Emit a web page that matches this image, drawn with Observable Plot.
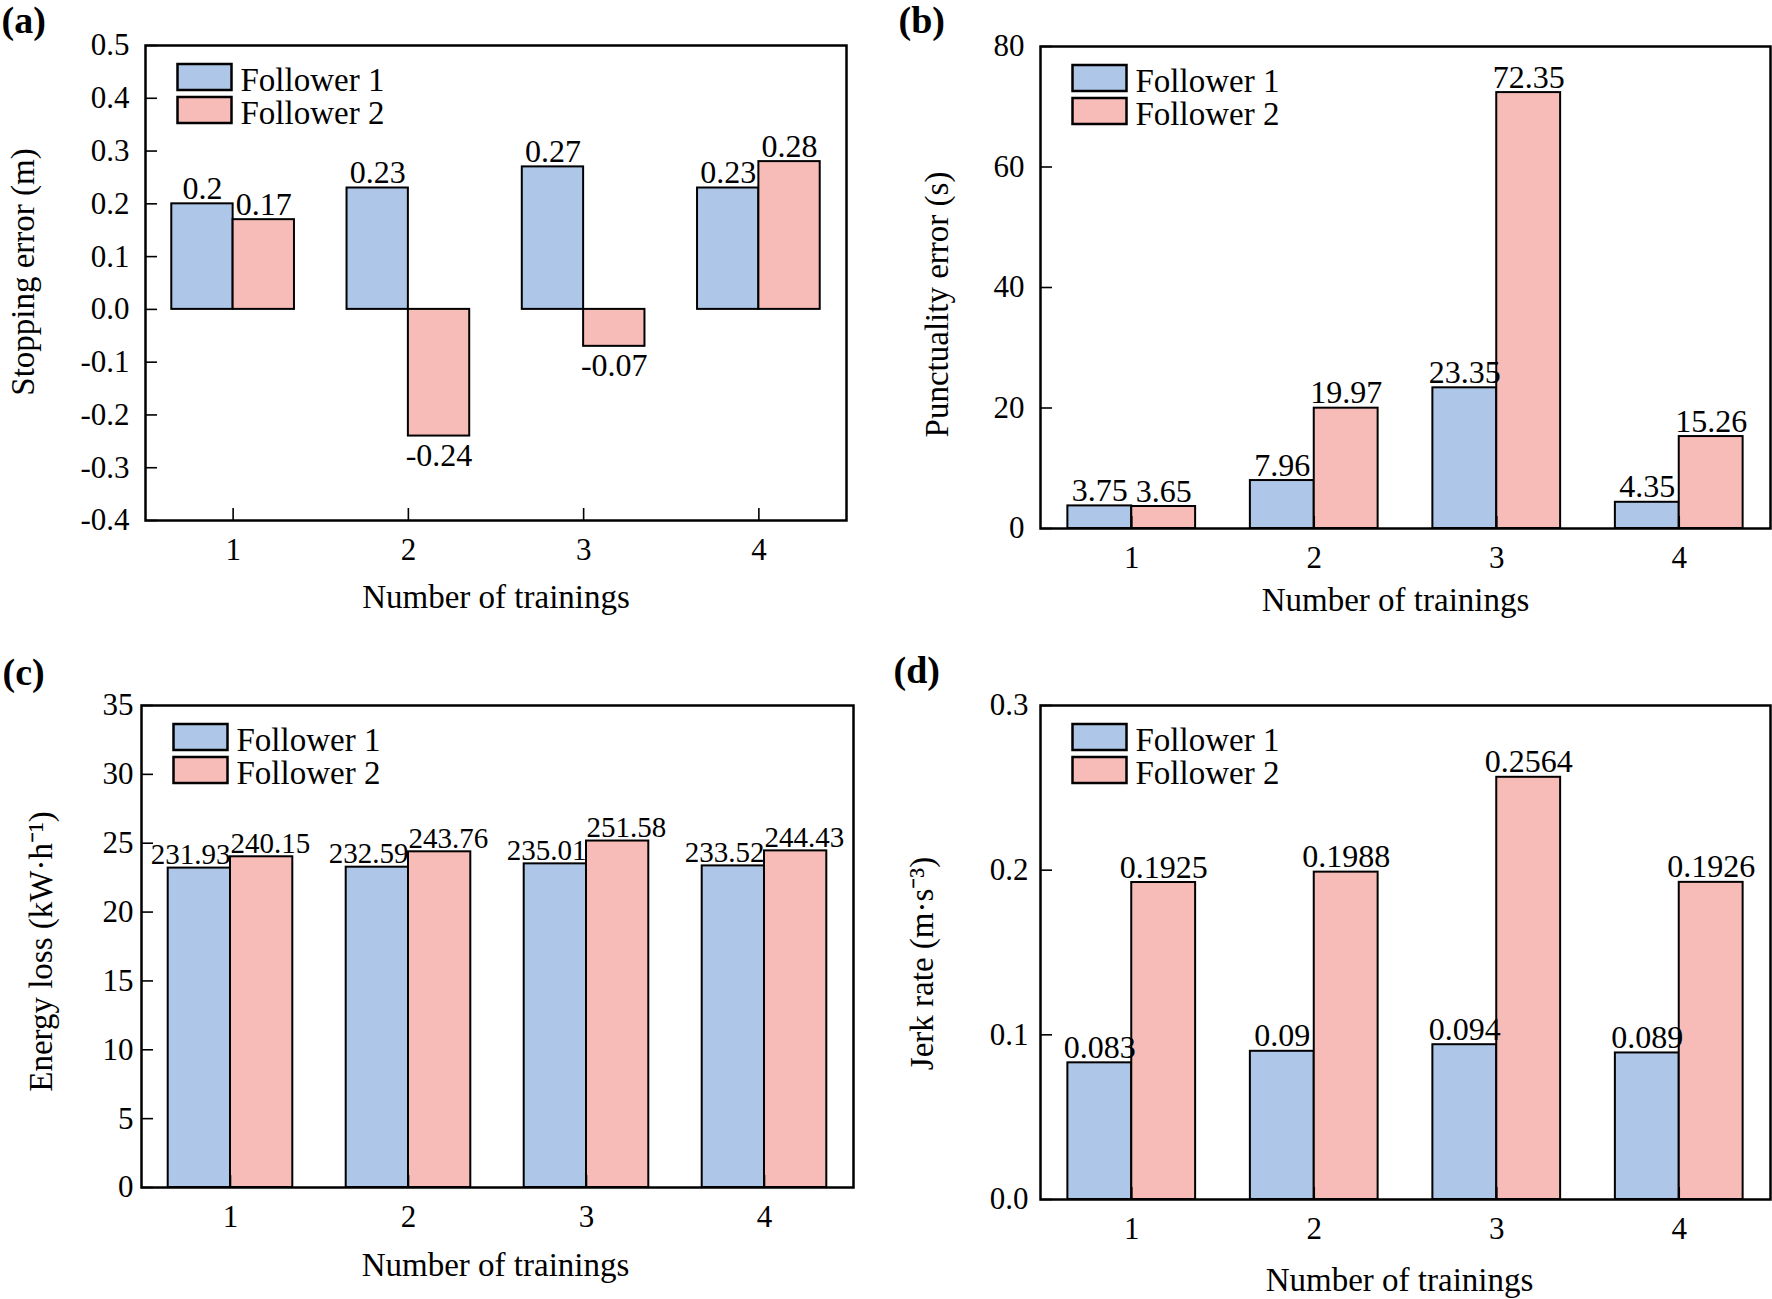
<!DOCTYPE html>
<html>
<head>
<meta charset="utf-8">
<script src="https://cdn.jsdelivr.net/npm/d3@7"></script>
<script src="https://cdn.jsdelivr.net/npm/@observablehq/plot@0.6"></script>
<style>
  html, body { margin: 0; padding: 0; background: #fff; }
  #page { position: relative; width: 1772px; height: 1299px; overflow: hidden; background: #fff; }
  .panel { position: absolute; }
</style>
</head>
<body>
<div id="page"></div>
<script>
// ---------- data ----------
const trainings = [1, 2, 3, 4];
const series = ["Follower 1", "Follower 2"];
const seriesColors = ["#aec7e8", "#f8bcb8"];

const stoppingF1 = [0.2, 0.23, 0.27, 0.23];
const stoppingF2 = [0.17, -0.24, -0.07, 0.28];
const stoppingTicks = [-0.4, -0.3, -0.2, -0.1, 0, 0.1, 0.2, 0.3, 0.4, 0.5];

const punctualityF1 = [3.75, 7.96, 23.35, 4.35];
const punctualityF2 = [3.65, 19.97, 72.35, 15.26];
const punctualityTicks = [0, 20, 40, 60, 80];

const energyF1 = [231.93, 232.59, 235.01, 233.52];
const energyF2 = [240.15, 243.76, 251.58, 244.43];
const energyTicks = [0, 5, 10, 15, 20, 25, 30, 35];

const jerkF1 = [0.083, 0.09, 0.094, 0.089];
const jerkF2 = [0.1925, 0.1988, 0.2564, 0.1926];
const jerkTicks = [0.0, 0.1, 0.2, 0.3];

const xLabel = "Number of trainings";
const FONT = "'Liberation Serif', 'Times New Roman', serif";
const fmt1 = d => d3.format(".1f")(d).replace("\u2212", "-");
const fmt0 = d => d3.format("d")(d);

// ---------- panel builder ----------
function panel(cfg) {
  const rows = [];
  trainings.forEach((t, i) => {
    rows.push({t, s: series[0], v: cfg.f1[i]});
    rows.push({t, s: series[1], v: cfg.f2[i]});
  });
  const fw = cfg.w - cfg.ml - cfg.mr;
  const fh = cfg.h - cfg.mt - cfg.mb;
  const half = 0.35; // bar width as a fraction of one category step
  const isF1 = d => d.s === series[0];
  const yv = d => d.v * cfg.barScale;
  const cx = d => isF1(d) ? d.t - half / 2 : d.t + half / 2;

  const labelMarks = [];
  if (cfg.edgeLabels) {
    labelMarks.push(Plot.text(rows.filter(isF1), {x: "t", y: yv, text: d => String(d.v), textAnchor: "end", lineAnchor: "bottom", dy: -4, fontSize: cfg.labelSize, fill: "#000"}));
    labelMarks.push(Plot.text(rows.filter(d => !isF1(d)), {x: "t", y: yv, text: d => String(d.v), textAnchor: "start", lineAnchor: "bottom", dy: -4, fontSize: cfg.labelSize, fill: "#000"}));
  } else {
    labelMarks.push(Plot.text(rows.filter(d => d.v >= 0), {x: cx, y: yv, text: d => String(d.v), textAnchor: "middle", lineAnchor: "bottom", dy: -5, fontSize: cfg.labelSize, fill: "#000"}));
    labelMarks.push(Plot.text(rows.filter(d => d.v < 0), {x: cx, y: yv, text: d => String(d.v), textAnchor: "middle", lineAnchor: "top", dy: 7, fontSize: cfg.labelSize, fill: "#000"}));
  }

  const legendMarks = [];
  series.forEach((s, i) => {
    legendMarks.push(Plot.dot([s], {
      frameAnchor: "top-left", dx: 59, dy: 31.5 + 33 * i,
      symbol: {draw(ctx) { ctx.rect(-27, -13, 54, 26); }},
      r: 5, fill: d => d, stroke: "#000", strokeWidth: 2.5
    }));
    legendMarks.push(Plot.text([s], {
      frameAnchor: "top-left", dx: 95, dy: 35 + 33 * i, text: d => d,
      textAnchor: "start", lineAnchor: "middle", fontSize: 33, fill: "#000"
    }));
  });

  return Plot.plot({
    width: cfg.w, height: cfg.h,
    marginLeft: cfg.ml, marginRight: cfg.mr, marginTop: cfg.mt, marginBottom: cfg.mb,
    style: {fontFamily: FONT, fontSize: "31px", color: "#000", background: "transparent", overflow: "visible"},
    x: {domain: [0.5, 4.5], axis: null},
    y: {domain: cfg.domain, axis: null},
    color: {domain: series, range: seriesColors},
    marks: [
      Plot.rect(rows, {
        x1: d => isF1(d) ? d.t - half : d.t,
        x2: d => isF1(d) ? d.t : d.t + half,
        y1: () => 0, y2: yv,
        fill: "s", stroke: "#000", strokeWidth: 2
      }),
      Plot.tickX(trainings, {x: d => d, insetTop: fh - 12, stroke: "#000", strokeWidth: 1.6}),
      Plot.tickY(cfg.ticks, {y: d => d, insetRight: fw - 12, stroke: "#000", strokeWidth: 1.6}),
      Plot.frame({stroke: "#000", strokeWidth: 2.5}),
      Plot.axisX(trainings, {tickSize: 0, tickPadding: 17, fontSize: 31, label: null, tickFormat: d => String(d)}),
      Plot.axisY(cfg.ticks, {tickSize: 0, tickPadding: cfg.tickGap, fontSize: 31, label: null, tickFormat: cfg.fmt}),
      ...labelMarks,
      ...legendMarks,
      Plot.text([xLabel], {frameAnchor: "bottom", dx: cfg.xdx, dy: cfg.xdy, text: d => d, textAnchor: "middle", lineAnchor: "top", fontSize: 33, fill: "#000"}),
      Plot.text([cfg.yLabel], {frameAnchor: "left", rotate: -90, dx: cfg.ydx, dy: cfg.ydy, text: d => d, textAnchor: "middle", lineAnchor: "middle", fontSize: 33, fill: "#000"}),
      Plot.text([cfg.tag], {frameAnchor: "top-left", dx: cfg.tdx, dy: cfg.tdy, text: d => d, textAnchor: "start", lineAnchor: "top", fontSize: 38, fontWeight: "bold", fill: "#000"})
    ]
  });
}

const panels = [
  {tag: "(a)", left: 0, top: 0, w: 886, h: 650, ml: 145, mr: 40, mt: 45, mb: 130,
   f1: stoppingF1, f2: stoppingF2, ticks: stoppingTicks, domain: [-0.4, 0.5], fmt: fmt1, barScale: 1,
   yLabel: "Stopping error (m)", tickGap: 16, ydx: -122, ydy: -11, xdx: 0, xdy: 64, tdx: -144, tdy: -39,
   labelSize: 32, edgeLabels: false},
  {tag: "(b)", left: 886, top: 0, w: 886, h: 650, ml: 154, mr: 2, mt: 46, mb: 122,
   f1: punctualityF1, f2: punctualityF2, ticks: punctualityTicks, domain: [0, 80], fmt: fmt0, barScale: 1,
   yLabel: "Punctuality error (s)", tickGap: 16, ydx: -103, ydy: 17, xdx: -10, xdy: 59, tdx: -142, tdy: -40,
   labelSize: 32, edgeLabels: false},
  // energy bars are drawn at one tenth of their labelled value, as in the original figure
  {tag: "(c)", left: 0, top: 650, w: 886, h: 649, ml: 141, mr: 33, mt: 55, mb: 112,
   f1: energyF1, f2: energyF2, ticks: energyTicks, domain: [0, 35], fmt: fmt0, barScale: 0.1,
   yLabel: "Energy loss (kW\u00B7h\u207B\u00B9)", tickGap: 8, ydx: -100, ydy: 5, xdx: -2, xdy: 65, tdx: -139, tdy: -47,
   labelSize: 29, edgeLabels: true},
  {tag: "(d)", left: 886, top: 650, w: 886, h: 649, ml: 154, mr: 2, mt: 55, mb: 100,
   f1: jerkF1, f2: jerkF2, ticks: jerkTicks, domain: [0, 0.3], fmt: fmt1, barScale: 1,
   yLabel: "Jerk rate (m\u00B7s\u207B\u00B3)", tickGap: 12, ydx: -118, ydy: 11, xdx: -6, xdy: 68, tdx: -147, tdy: -49,
   labelSize: 32, edgeLabels: false}
];

const page = document.getElementById("page");
for (const cfg of panels) {
  const div = document.createElement("div");
  div.className = "panel";
  div.style.left = cfg.left + "px";
  div.style.top = cfg.top + "px";
  div.appendChild(panel(cfg));
  page.appendChild(div);
}
</script>
</body>
</html>
